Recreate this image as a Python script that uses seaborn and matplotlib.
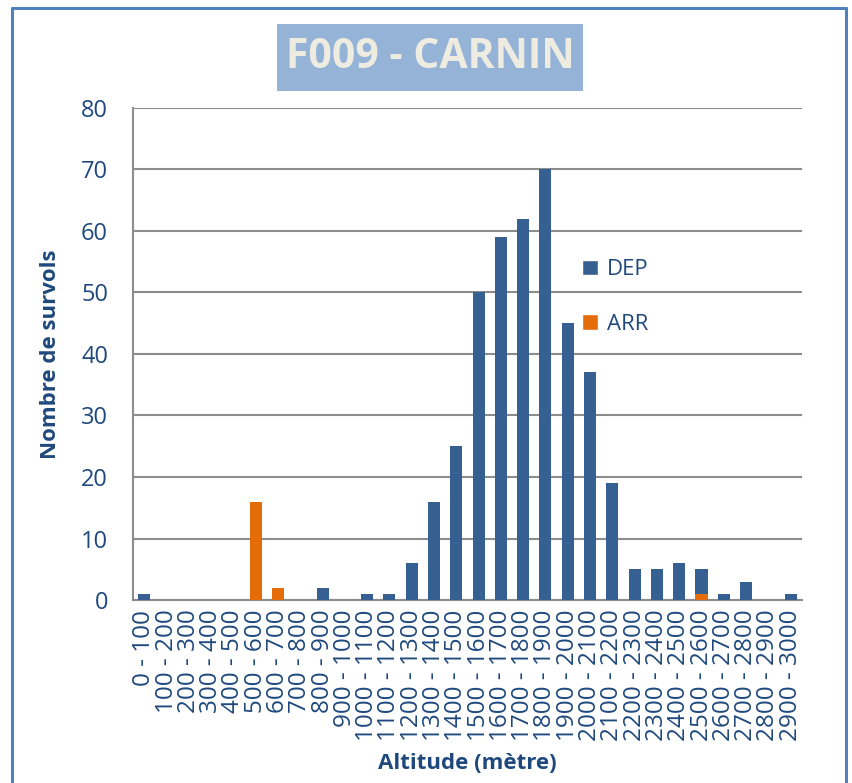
import matplotlib
matplotlib.use("Agg")
import matplotlib.pyplot as plt
import seaborn as sns
from matplotlib.patches import Patch, Rectangle
from matplotlib.lines import Line2D

# tranches d'altitude
tranches = [f"{i * 100} - {(i + 1) * 100}" for i in range(30)]

# nombre de survols par tranche
dep = [1, 0, 0, 0, 0, 0, 0, 0, 2, 0,
       1, 1, 6, 16, 25, 50, 59, 62, 70, 45,
       37, 19, 5, 5, 6, 5, 1, 3, 0, 1]
arr = [0, 0, 0, 0, 0, 16, 2, 0, 0, 0,
       0, 0, 0, 0, 0, 0, 0, 0, 0, 0,
       0, 0, 0, 0, 0, 1, 0, 0, 0, 0]

series = ["DEP", "ARR"]
couleurs = ["#376092", "#E46C0A"]
texte = "#1F497D"
gris = "#8C8C8C"

sns.set_style("white")
plt.rcParams["font.family"] = ["Open Sans", "DejaVu Sans"]

fig = plt.figure(figsize=(8.53, 7.83), dpi=100)
ax = fig.add_axes([0.156, 0.2337, 0.784, 0.6284])

sns.barplot(x=tranches, y=dep, color=couleurs[0], width=0.54,
            linewidth=0, saturation=1, ax=ax, zorder=3)
sns.barplot(x=tranches, y=arr, color=couleurs[1], width=0.54,
            linewidth=0, saturation=1, ax=ax, zorder=4)

ax.set_ylim(0, 80)
ax.set_yticks(range(0, 81, 10))
ax.set_xlim(-0.5, len(tranches) - 0.5)
ax.yaxis.grid(True, color=gris, linewidth=1.5, zorder=0)
ax.set_axisbelow(True)
for s in ["top", "right"]:
    ax.spines[s].set_visible(False)
for s in ["left", "bottom"]:
    ax.spines[s].set_color(gris)
    ax.spines[s].set_linewidth(1.5)
ax.tick_params(axis="both", length=0, colors=texte)
ax.tick_params(axis="y", labelsize=17, pad=18)
ax.tick_params(axis="x", labelsize=17.5, pad=7)
plt.setp(ax.get_xticklabels(), rotation=90)

ax.set_xlabel("Altitude (mètre)", fontsize=16, fontweight="bold", color=texte, labelpad=8)
ax.set_ylabel("Nombre de survols", fontsize=16, fontweight="bold", color=texte, labelpad=14)

handles = [Patch(facecolor=c, label=s) for s, c in zip(series, couleurs)]
leg = ax.legend(handles=handles, loc="upper left", bbox_to_anchor=(0.655, 0.715),
                frameon=False, fontsize=16, handlelength=0.7, handleheight=0.7,
                handletextpad=0.4, labelspacing=1.5, borderpad=0)
for t in leg.get_texts():
    t.set_color(texte)

# titre dans un cadre bleu
fig.patches.append(Rectangle((0.3247, 0.8838), 0.3587, 0.0856, transform=fig.transFigure,
                             facecolor="#95B3D7", edgecolor="none", zorder=1))
fig.text(0.504, 0.9266, "F009 - CARNIN", ha="center", va="center", fontsize=29.5,
         fontweight="bold", color="#EEECE1", zorder=2)

# bordure du graphique
bx0, bx1, by1 = 12 / 853, 846 / 853, 1 - 8 / 783
for xs, ys in [([bx0, bx0], [0, by1]), ([bx0, bx1], [by1, by1]), ([bx1, bx1], [by1, 0])]:
    fig.lines.append(Line2D(xs, ys, transform=fig.transFigure, color="#4F81BD", linewidth=2.2))

fig.savefig("out.png", dpi=100)
